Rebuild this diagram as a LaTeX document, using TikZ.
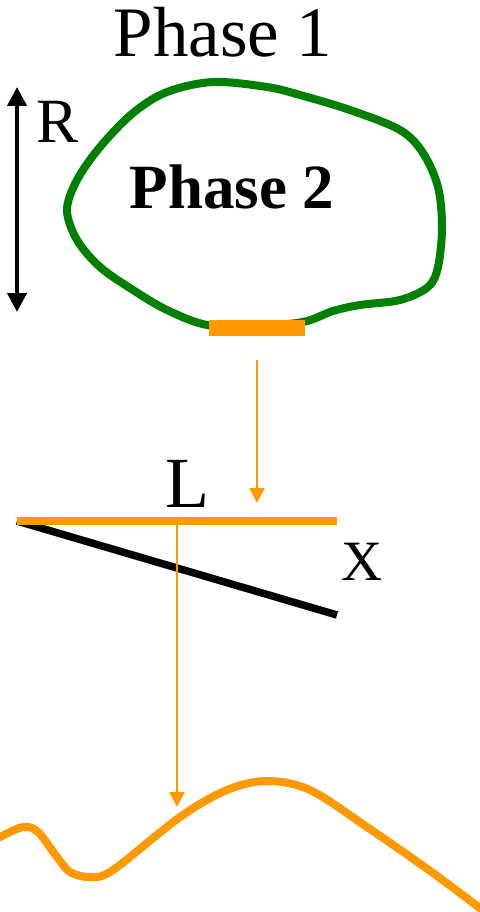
\documentclass[tikz,border=0pt]{standalone}
\usepackage{fontspec}
\setmainfont{Liberation Serif}
\usetikzlibrary{arrows.meta}
\definecolor{blobgreen}{RGB}{0,128,0}
\definecolor{fluxorange}{RGB}{255,153,0}
\tikzset{
  lbl/.style={inner sep=0pt, anchor=base},
  thinarrow/.style={fluxorange, line width=2pt, -{Triangle[length=15pt,width=15pt]}},
  thick line/.style={line width=7.5pt}
}
\begin{document}
\begin{tikzpicture}[x=1pt,y=-1pt]
\useasboundingbox (0,0) rectangle (479,912);
% texts
\node[lbl] (p1) at (223,57) {\fontsize{71}{71}\selectfont Phase 1};
\node[lbl] (r) at (58,143) {\fontsize{63}{63}\selectfont R};
\node[lbl] (p2) at (232,208) {\fontsize{63}{63}\selectfont\bfseries Phase 2};
\node[lbl] (l) at (187,507) {\fontsize{72}{72}\selectfont L};
\node[lbl] (xl) at (362,580) {\fontsize{57}{57}\selectfont X};
% blob
\draw[blobgreen, line width=8pt] plot[smooth cycle, tension=0.55] coordinates {
 (213,82) (267,87) (300,95) (350,110) (400,130) (423,153) (438,187)
 (442,227) (438,267) (428,287) (400,300) (360,305) (333,311) (303,322)
 (255,326) (207,325) (167,310) (133,290) (100,267) (77,240) (67,210)
 (77,180) (100,147) (133,113) (167,92)};
\fill[fluxorange] (209,320) rectangle (305,336);
% R arrow
\coordinate (rt) at (17,87);
\coordinate (rb) at (17,312);
\draw[line width=4pt, {Triangle[length=19pt,width=19pt]}-{Triangle[length=19pt,width=19pt]}] (rt) -- (rb);
% first flux arrow
\coordinate (a1s) at (257,360);
\coordinate (a1e) at (257,503);
\draw[thinarrow] (a1s) -- (a1e);
% lines
\coordinate (o) at (17,521);
\coordinate (ore) at (337,521);
\coordinate (bre) at (337,615);
\draw[thick line, black] (o) -- (bre);
\draw[thick line, fluxorange] (o) -- (ore);
% second flux arrow
\coordinate (a2s) at (177,521);
\coordinate (a2e) at (177,807);
\draw[thinarrow] (a2s) -- (a2e);
% bottom curve
\draw[fluxorange, line width=8pt] plot[smooth, tension=0.55] coordinates {
 (-5,840) (0,837) (23,827) (38,832) (57,857) (70,872) (90,877) (113,870)
 (180,817) (227,790) (267,781) (310,790) (367,827) (433,873) (485,912)};
\end{tikzpicture}
\end{document}
